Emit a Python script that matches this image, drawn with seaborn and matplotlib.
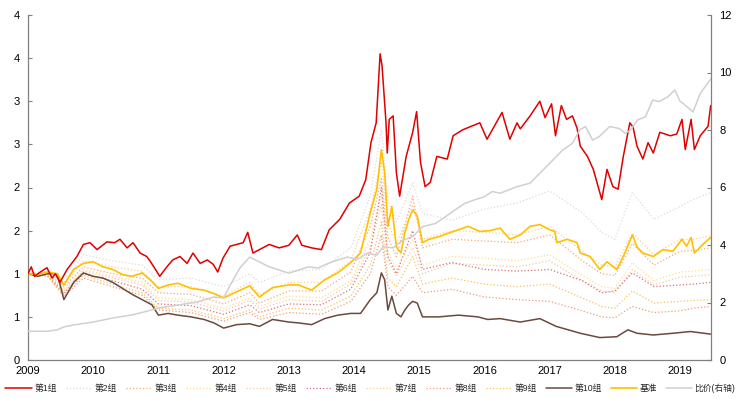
import math
import matplotlib
matplotlib.use("Agg")
import matplotlib.pyplot as plt
from matplotlib.ticker import FuncFormatter, MultipleLocator
import seaborn as sns

# ---- data (decimal years) ----
red_x = [2009.0, 2009.05, 2009.1, 2009.17, 2009.29, 2009.37, 2009.42, 2009.49, 2009.6, 2009.75,
         2009.85, 2009.95, 2010.06, 2010.21, 2010.33, 2010.41, 2010.52, 2010.61, 2010.72, 2010.82,
         2010.87, 2010.98, 2011.02, 2011.13, 2011.22, 2011.33, 2011.44, 2011.53, 2011.64, 2011.75,
         2011.84, 2011.91, 2011.99, 2012.1, 2012.2, 2012.3, 2012.37, 2012.45, 2012.55, 2012.7,
         2012.85, 2013.0, 2013.13, 2013.2, 2013.35, 2013.5, 2013.62, 2013.78, 2013.93, 2014.08,
         2014.18, 2014.26, 2014.34, 2014.4, 2014.43, 2014.49, 2014.51, 2014.54, 2014.6, 2014.65,
         2014.7, 2014.8, 2014.9, 2014.96, 2015.02, 2015.09, 2015.17, 2015.27, 2015.43, 2015.52,
         2015.67, 2015.93, 2016.04, 2016.27, 2016.39, 2016.5, 2016.55, 2016.7, 2016.85, 2016.93,
         2017.03, 2017.09, 2017.18, 2017.26, 2017.35, 2017.42, 2017.47, 2017.58, 2017.67, 2017.8,
         2017.88, 2017.97, 2018.05, 2018.13, 2018.23, 2018.28, 2018.34, 2018.43, 2018.51, 2018.59,
         2018.69, 2018.85, 2018.95, 2019.03, 2019.08, 2019.17, 2019.22, 2019.31, 2019.43, 2019.47]
red_y = [1.0, 1.08, 0.97, 1.01, 1.07, 0.95, 1.0, 0.9, 1.05, 1.2,
         1.34, 1.36, 1.28, 1.37, 1.36, 1.4, 1.3, 1.36, 1.24, 1.2,
         1.15, 1.02, 0.97, 1.08, 1.16, 1.2, 1.12, 1.24, 1.12, 1.16,
         1.11, 1.02, 1.18, 1.32, 1.34, 1.36, 1.48, 1.24, 1.28, 1.34,
         1.3, 1.33, 1.45, 1.33, 1.3, 1.28, 1.51, 1.63, 1.82, 1.9,
         2.09, 2.52, 2.75, 3.55, 3.41, 2.76, 2.4, 2.79, 2.83, 2.17,
         1.9, 2.36, 2.64, 2.88, 2.29, 2.01, 2.06, 2.36, 2.33, 2.6,
         2.67, 2.75, 2.56, 2.87, 2.56, 2.75, 2.68, 2.83, 3.0, 2.81,
         2.97, 2.6, 2.95, 2.79, 2.83, 2.69, 2.48, 2.36, 2.21, 1.86,
         2.21, 2.01, 1.98, 2.36, 2.75, 2.7, 2.48, 2.33, 2.52, 2.4,
         2.64, 2.6, 2.62, 2.79, 2.44, 2.79, 2.44, 2.6, 2.71, 2.95]

bench_x = [2009.0, 2009.15, 2009.3, 2009.45, 2009.55, 2009.7, 2009.85, 2010.0, 2010.15, 2010.3,
           2010.45, 2010.6, 2010.75, 2010.9, 2011.0, 2011.15, 2011.3, 2011.5, 2011.7, 2011.85,
           2012.0, 2012.2, 2012.4, 2012.55, 2012.75, 2013.0, 2013.15, 2013.35, 2013.55, 2013.75,
           2013.95, 2014.1, 2014.25, 2014.35, 2014.42, 2014.47, 2014.52, 2014.58, 2014.65, 2014.72,
           2014.78, 2014.84, 2014.9, 2014.97, 2015.05, 2015.15, 2015.3, 2015.45, 2015.6, 2015.75,
           2015.93, 2016.09, 2016.24, 2016.39, 2016.55, 2016.7, 2016.85, 2017.0, 2017.08, 2017.11,
           2017.27, 2017.42, 2017.47, 2017.62, 2017.77, 2017.88, 2018.03, 2018.13, 2018.27, 2018.34,
           2018.43, 2018.59, 2018.74, 2018.89, 2019.03, 2019.1, 2019.17, 2019.22, 2019.35, 2019.47]
bench_y = [1.0, 0.99, 1.02, 1.0, 0.87, 1.05, 1.12, 1.14, 1.08, 1.05,
           0.99, 0.97, 1.01, 0.91, 0.83, 0.87, 0.89, 0.83, 0.81, 0.77,
           0.72, 0.79, 0.86, 0.73, 0.84, 0.87, 0.87, 0.81, 0.93, 1.01,
           1.13, 1.24, 1.71, 1.98, 2.44, 2.17, 1.55, 1.78, 1.31, 1.24,
           1.48, 1.63, 1.74, 1.67, 1.36, 1.4, 1.43, 1.47, 1.51, 1.55,
           1.49, 1.5, 1.53, 1.4, 1.45, 1.55, 1.57, 1.51, 1.49, 1.36,
           1.4, 1.36, 1.24, 1.2, 1.05, 1.14, 1.05, 1.2, 1.45, 1.31,
           1.24, 1.2, 1.28, 1.26, 1.4, 1.32, 1.42, 1.24, 1.34, 1.42]

g10_x = [2009.0, 2009.15, 2009.3, 2009.45, 2009.55, 2009.7, 2009.85, 2010.0, 2010.15, 2010.3,
         2010.45, 2010.6, 2010.75, 2010.9, 2011.0, 2011.15, 2011.3, 2011.5, 2011.7, 2011.85,
         2012.0, 2012.2, 2012.4, 2012.55, 2012.75, 2013.0, 2013.15, 2013.35, 2013.55, 2013.75,
         2013.95, 2014.1, 2014.25, 2014.35, 2014.42, 2014.47, 2014.52, 2014.58, 2014.65, 2014.72,
         2014.78, 2014.84, 2014.9, 2014.97, 2015.05, 2015.3, 2015.6, 2015.9, 2016.05, 2016.24,
         2016.55, 2016.85, 2017.1, 2017.47, 2017.77, 2018.03, 2018.2, 2018.34, 2018.59, 2018.89,
         2019.16, 2019.47]
g10_y = [1.0, 0.97, 1.0, 1.0, 0.7, 0.9, 1.01, 0.97, 0.95, 0.9,
         0.83, 0.76, 0.7, 0.64, 0.52, 0.54, 0.52, 0.5, 0.47, 0.43,
         0.37, 0.41, 0.42, 0.39, 0.47, 0.44, 0.43, 0.41, 0.48, 0.52,
         0.54, 0.54, 0.7, 0.78, 1.01, 0.93, 0.58, 0.74, 0.54, 0.5,
         0.58, 0.64, 0.68, 0.66, 0.5, 0.5, 0.52, 0.5, 0.47, 0.48,
         0.44, 0.48, 0.39, 0.31, 0.26, 0.27, 0.35, 0.31, 0.29, 0.31,
         0.33, 0.3]

# groups 2-9 share a coarser date grid
mid_x = [2009.0, 2009.3, 2009.55, 2009.85, 2010.3, 2010.75, 2011.0, 2011.5, 2012.0, 2012.4,
         2012.55, 2013.0, 2013.5, 2013.95, 2014.25, 2014.42, 2014.52, 2014.65, 2014.9, 2015.05,
         2015.5, 2016.0, 2016.5, 2017.0, 2017.5, 2017.8, 2018.0, 2018.27, 2018.6, 2019.0,
         2019.2, 2019.47]
g2_y = [1.0, 1.03, 0.9, 1.22, 1.15, 1.1, 0.93, 0.95, 0.85, 1.0,
        0.9, 1.03, 1.05, 1.3, 1.9, 2.67, 1.85, 1.6, 2.05, 1.7,
        1.62, 1.75, 1.82, 1.96, 1.71, 1.48, 1.4, 1.94, 1.63, 1.78,
        1.86, 1.94]
g3_y = [1.0, 1.01, 0.85, 1.08, 1.0, 0.95, 0.78, 0.76, 0.65, 0.78,
        0.66, 0.8, 0.8, 1.02, 1.55, 2.1, 1.42, 1.2, 1.9, 1.3,
        1.4, 1.38, 1.36, 1.45, 1.15, 1.0, 0.98, 1.35, 1.1, 1.26,
        1.27, 1.3]
g4_y = [1.0, 1.0, 0.82, 1.05, 0.97, 0.9, 0.72, 0.7, 0.6, 0.72,
        0.62, 0.74, 0.72, 0.92, 1.4, 1.9, 1.25, 1.05, 1.4, 1.1,
        1.2, 1.18, 1.15, 1.22, 0.98, 0.85, 0.83, 1.13, 0.92, 1.02,
        1.03, 1.05]
g5_y = [1.0, 0.99, 0.8, 1.03, 0.95, 0.87, 0.69, 0.67, 0.57, 0.69,
        0.59, 0.7, 0.68, 0.88, 1.3, 1.8, 1.15, 0.98, 1.3, 1.0,
        1.12, 1.1, 1.08, 1.15, 0.92, 0.8, 0.78, 1.05, 0.87, 0.96,
        0.97, 0.99]
g6_y = [1.0, 0.98, 0.78, 1.0, 0.92, 0.82, 0.65, 0.63, 0.53, 0.64,
        0.55, 0.65, 0.64, 0.82, 1.25, 2.0, 1.2, 1.0, 1.5, 1.05,
        1.13, 1.05, 1.03, 1.05, 0.92, 0.78, 0.8, 1.01, 0.85, 0.87,
        0.88, 0.9]
g7_y = [1.0, 1.03, 0.88, 1.15, 1.08, 1.03, 0.85, 0.85, 0.74, 0.9,
        0.76, 0.9, 0.9, 1.15, 1.75, 2.3, 1.6, 1.35, 1.8, 1.4,
        1.5, 1.48, 1.45, 1.55, 1.26, 1.1, 1.08, 1.47, 1.22, 1.4,
        1.4, 1.44]
g8_y = [1.0, 0.97, 0.74, 0.95, 0.85, 0.75, 0.58, 0.55, 0.45, 0.55,
        0.47, 0.55, 0.53, 0.68, 1.0, 1.45, 0.85, 0.75, 0.97, 0.78,
        0.82, 0.73, 0.7, 0.68, 0.57, 0.5, 0.49, 0.62, 0.55, 0.57,
        0.6, 0.62]
g9_y = [1.0, 0.98, 0.76, 0.98, 0.88, 0.78, 0.6, 0.58, 0.48, 0.58,
        0.5, 0.6, 0.58, 0.74, 1.1, 1.6, 0.95, 0.85, 1.2, 0.88,
        0.95, 0.88, 0.85, 0.88, 0.72, 0.62, 0.6, 0.8, 0.66, 0.68,
        0.69, 0.7]

# ratio series on right axis
ratio_x = [2009.0, 2009.3, 2009.45, 2009.55, 2009.7, 2010.0, 2010.3, 2010.6, 2010.9, 2011.0,
           2011.3, 2011.6, 2011.85, 2012.0, 2012.1, 2012.25, 2012.4, 2012.55, 2012.7, 2012.85,
           2013.0, 2013.15, 2013.3, 2013.45, 2013.6, 2013.75, 2013.9, 2014.05, 2014.2, 2014.35,
           2014.45, 2014.6, 2014.75, 2014.9, 2015.05, 2015.25, 2015.4, 2015.55, 2015.7, 2015.85,
           2016.0, 2016.12, 2016.24, 2016.5, 2016.7, 2016.82, 2017.0, 2017.2, 2017.35, 2017.46,
           2017.55, 2017.66, 2017.76, 2017.92, 2018.07, 2018.16, 2018.24, 2018.35, 2018.47, 2018.58,
           2018.68, 2018.81, 2018.92, 2019.0, 2019.05, 2019.2, 2019.31, 2019.47]
ratio_y = [1.0, 1.0, 1.05, 1.15, 1.22, 1.32, 1.46, 1.57, 1.74, 1.81,
           1.91, 2.02, 2.19, 2.16, 2.6, 3.2, 3.58, 3.41, 3.24, 3.13,
           3.02, 3.13, 3.24, 3.2, 3.36, 3.48, 3.58, 3.5, 3.71, 3.65,
           3.94, 3.9, 4.17, 4.29, 4.64, 4.75, 4.98, 5.22, 5.45, 5.57,
           5.68, 5.86, 5.8, 6.03, 6.15, 6.43, 6.84, 7.3, 7.54, 8.0,
           8.12, 7.65, 7.77, 8.12, 8.05, 7.88, 8.0, 8.35, 8.46, 9.04,
           8.99, 9.15, 9.39, 9.0, 8.92, 8.63, 9.27, 9.77]

year_ticks = list(range(2009, 2020))

# ---- styling ----
sns.set_style("white")
plt.rcParams["font.family"] = ["Liberation Sans", "Noto Sans CJK SC", "DejaVu Sans"]
axis_grey = "#808080"

fig = plt.figure(figsize=(7.41, 3.99), dpi=100)
ax = fig.add_axes([28 / 741, 1 - 360 / 399, (711 - 28) / 741, (360 - 15) / 399])
ax2 = ax.twinx()

dotted = [
    ("第2组", mid_x, g2_y, "#dcdcdc"),
    ("第3组", mid_x, g3_y, "#f4a97a"),
    ("第4组", mid_x, g4_y, "#ffdf8a"),
    ("第5组", mid_x, g5_y, "#f8c7a8"),
    ("第6组", mid_x, g6_y, "#d8707f"),
    ("第7组", mid_x, g7_y, "#fbcf95"),
    ("第8组", mid_x, g8_y, "#ee9a80"),
    ("第9组", mid_x, g9_y, "#f7c45a"),
]

sns.lineplot(x=red_x, y=red_y, ax=ax, color="#e00000", linewidth=1.1, label="第1组", zorder=6)
for name, xs, ys, col in dotted:
    sns.lineplot(x=xs, y=ys, ax=ax, color=col, linewidth=0.9, linestyle=":", label=name, zorder=3)
sns.lineplot(x=g10_x, y=g10_y, ax=ax, color="#6b4a3e", linewidth=1.1, label="第10组", zorder=4)
sns.lineplot(x=bench_x, y=bench_y, ax=ax, color="#ffc000", linewidth=1.2, label="基准", zorder=5)
sns.lineplot(x=ratio_x, y=ratio_y, ax=ax2, color="#d0d0d0", linewidth=1.1, label="比价(右轴)")

# left axis: 0..4 every 0.5, labels rounded half-up like the original
ax.set_xlim(2009, 2019.475)
ax.set_ylim(0, 4)
ax.yaxis.set_major_locator(MultipleLocator(0.5))
ax.yaxis.set_major_formatter(FuncFormatter(lambda v, p: str(int(math.floor(v + 0.5)))))
ax.set_xticks(year_ticks)
ax.set_xticklabels([str(y) for y in year_ticks])
ax2.set_ylim(0, 12)
ax2.set_yticks(range(0, 13, 2))
ax.set_xlabel("")
ax.set_ylabel("")
ax2.set_ylabel("")

for a in (ax, ax2):
    a.tick_params(direction="in", length=3, width=0.8, color=axis_grey, labelsize=8,
                  labelcolor="#000000", pad=6)
    for side in ("left", "right", "bottom"):
        a.spines[side].set_color(axis_grey)
        a.spines[side].set_linewidth(0.9)
    a.spines["top"].set_visible(False)
ax.tick_params(axis="x", pad=4)
ax2.spines["left"].set_visible(False)
ax2.spines["bottom"].set_visible(False)
ax.spines["right"].set_visible(False)

# legend in one row under the plot
h1, l1 = ax.get_legend_handles_labels()
h2, l2 = ax2.get_legend_handles_labels()
ax.get_legend().remove()
ax2.get_legend().remove()
fig.legend(h1 + h2, l1 + l2, loc="center", bbox_to_anchor=(0.5, 1 - 388 / 399), ncol=12,
           frameon=False, fontsize=6.3, handlelength=3.0, handletextpad=0.3,
           columnspacing=1.0, borderaxespad=0, borderpad=0)

fig.savefig("out.png", dpi=100)
